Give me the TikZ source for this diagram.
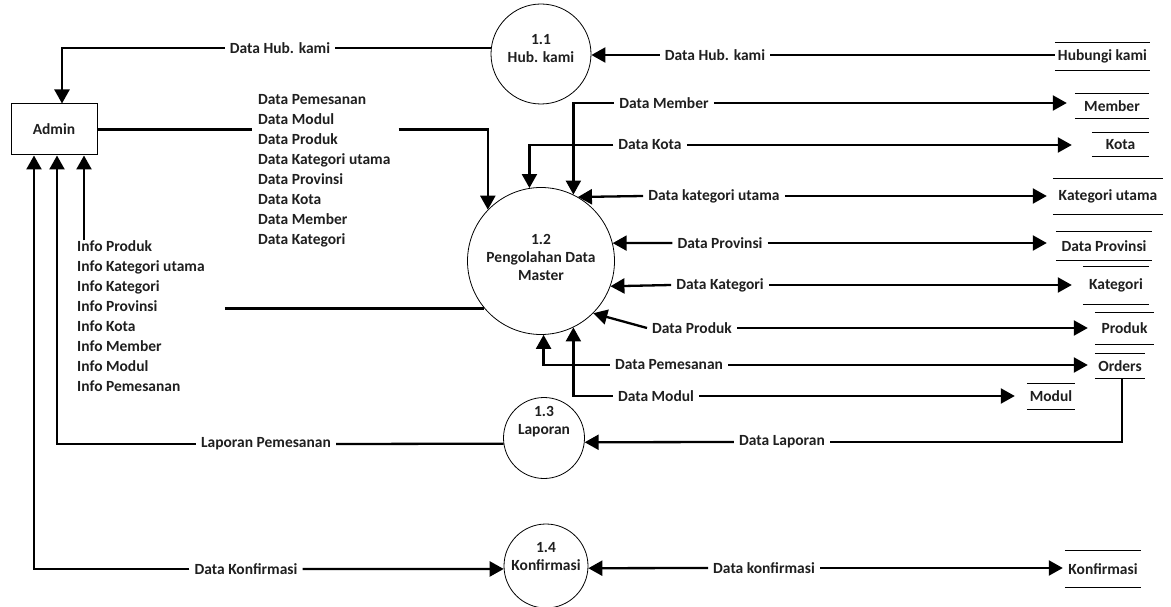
\documentclass[tikz,border=0pt]{standalone}
\usepackage{fontspec}
\setmainfont{Carlito}
\usetikzlibrary{arrows.meta}
\begin{document}
\begin{tikzpicture}[x=1pt,y=-1pt,
  every node/.style={font=\bfseries\fontsize{15.5}{18}\selectfont, text=black!88},
  tip/.style={-{Triangle[length=14pt,width=15pt]}},
  arr/.style={line width=2.3pt, tip},
  ln/.style={line width=2.3pt},
  proc/.style={circle, draw, line width=0.8pt, inner sep=0pt},
  ptxt/.style={align=center, inner sep=0pt},
  lbl/.style={inner xsep=5pt, inner ysep=1pt},
  lst/.style={align=left, inner sep=0pt, font=\bfseries\fontsize{15.5}{20}\selectfont},
  store/.style={inner sep=0pt, append after command={
     (\tikzlastnode.north west) edge[draw, line width=1.3pt] (\tikzlastnode.north east)
     (\tikzlastnode.south west) edge[draw, line width=1.3pt] (\tikzlastnode.south east)}},
]
\useasboundingbox (0,0) rectangle (1171,607);

% external entity
\node[draw, line width=1pt, minimum width=86pt, minimum height=51pt, inner sep=0pt] (admin) at (54,129.5) {Admin};

% processes
\node[proc, minimum size=100pt] (c11) at (541,54) {};
\node[ptxt] (t11) at (541,49) {1.1\\Hub. kami};
\node[proc, minimum size=147pt] (c12) at (541,261) {};
\node[ptxt] (t12) at (541,257) {1.2\\Pengolahan Data\\Master};
\node[proc, minimum size=81pt] (c13) at (544,438) {};
\node[ptxt] (t13) at (544,422) {1.3\\Laporan};
\node[proc, minimum size=84pt] (c14) at (546,566) {};
\node[ptxt] (t14) at (546,557) {1.4\\Konfirmasi};

% data stores
\node[store, minimum width=95pt, minimum height=27pt] (shub) at (1102.5,56.5) {Hubungi kami};
\node[store, minimum width=74pt, minimum height=24pt] (smem) at (1112,106) {Member};
\node[store, minimum width=57pt, minimum height=23pt] (skota) at (1120.5,144.5) {Kota};
\node[store, minimum width=110pt, minimum height=35pt] (sku) at (1108,196.5) {Kategori utama};
\node[store, minimum width=96pt, minimum height=28pt] (sprov) at (1104,246) {Data Provinsi};
\node[store, minimum width=66pt, minimum height=37pt] (skat) at (1116,285.5) {Kategori};
\node[store, minimum width=59pt, minimum height=31pt] (sprod) at (1124.5,328.5) {Produk};
\node[store, minimum width=50pt, minimum height=24pt] (sord) at (1120,366) {Orders};
\node[store, minimum width=48pt, minimum height=25pt] (smod) at (1051,396.5) {Modul};
\node[store, minimum width=76pt, minimum height=36pt] (skonf) at (1103,569) {Konfirmasi};

% lists
\node[lst, anchor=west] (dlist) at (258,171) {Data Pemesanan\\Data Modul\\Data Produk\\Data Kategori utama\\Data Provinsi\\Data Kota\\Data Member\\Data Kategori};
\node[lst, anchor=west] (ilist) at (77,316) {Info Produk\\Info Kategori utama\\Info Kategori\\Info Provinsi\\Info Kota\\Info Member\\Info Modul\\Info Pemesanan};

% flow labels
\node[lbl] (hub1) at (280,48) {Data Hub. kami};
\node[lbl] (hub2) at (715,55) {Data Hub. kami};
\node[lbl] (dmem) at (664,103) {Data Member};
\node[lbl] (dkota) at (650,145) {Data Kota};
\node[lbl] (dku) at (714,196) {Data kategori utama};
\node[lbl] (dprov) at (720,243) {Data Provinsi};
\node[lbl] (dkat) at (720,285) {Data Kategori};
\node[lbl] (dprod) at (692,328) {Data Produk};
\node[lbl] (dpem) at (669,365) {Data Pemesanan};
\node[lbl] (dmod) at (656,396) {Data Modul};
\node[lbl] (dlap) at (782,442) {Data Laporan};
\node[lbl] (lappem) at (266,444) {Laporan Pemesanan};
\node[lbl] (dkonf1) at (246,569) {Data Konfirmasi};
\node[lbl] (dkonf2) at (764,568) {Data konfirmasi};

% Hub. kami flows
\draw[ln] (c11.173) -- (c11.173 -| hub1.east);
\draw[arr] (hub1.west |- c11.173) -| ([xshift=8pt]admin.north);
\draw[ln] (shub.west |- hub2.east) -- (hub2.east);
\draw[arr] (hub2.west) -- (c11.east |- hub2.west);

% Admin -> 1.2
\draw[ln] (admin.east) -- ([xshift=-6pt]dlist.west |- admin.east);
\draw[arr] ([xshift=8pt]dlist.east |- admin.east) -| (c12.136);

% 1.2 -> Admin (info)
\draw[ln] ([xshift=20pt]ilist.east |- c12.220) -- (c12.220);
\draw[arr] ([xshift=30pt]admin.south |- ilist.north) -- ([xshift=30pt]admin.south);

% 1.3 -> Admin
\draw[ln] (c13.188) -- (lappem.east);
\draw[arr] (lappem.west) -| ([xshift=3pt]admin.south);

% Admin <-> 1.4
\draw[arr] (dkonf1.west) -| ([xshift=-20pt]admin.south);
\draw[arr] (dkonf1.east) -- (c14.184);

% data stores <-> 1.2
\draw[arr] (dmem.west) -| (c12.64);
\draw[arr] (dmem.east) -- ([xshift=-8pt]smem.west |- dmem.east);
\draw[arr] (dkota.west) -| (c12.99);
\draw[arr] (dkota.east) -- ([xshift=-20pt]skota.west |- dkota.east);
\draw[arr] (dku.west) -- (c12.60);
\draw[arr] (dku.east) -- ([xshift=-6pt]sku.west |- dku.east);
\draw[arr] (dprov.west) -- (c12.14);
\draw[arr] (dprov.east) -- ([xshift=-9pt]sprov.west |- dprov.east);
\draw[arr] (dkat.west) -- (c12.-20);
\draw[arr] (dkat.east) -- ([xshift=-11pt]skat.west |- dkat.east);
\draw[arr] (dprod.west) -- (c12.-45);
\draw[arr] (dprod.east) -- ([xshift=-7pt]sprod.west |- dprod.east);
\draw[arr] (dpem.west) -| (c12.-88);
\draw[arr] (dpem.east) -- ([xshift=-7pt]sord.west |- dpem.east);
\draw[arr] (dmod.west) -| (c12.-64);
\draw[arr] (dmod.east) -- ([xshift=-12pt]smod.west |- dmod.east);

% Orders -> 1.3
\draw[ln] ([xshift=2pt]sord.south) |- (dlap.east);
\draw[arr] (dlap.west) -- (c13.-6);

% 1.4 <-> Konfirmasi
\draw[arr] (dkonf2.west) -- (c14.-3);
\draw[arr] (dkonf2.east) -- ([xshift=-2pt]skonf.west |- dkonf2.east);
\end{tikzpicture}
\end{document}
